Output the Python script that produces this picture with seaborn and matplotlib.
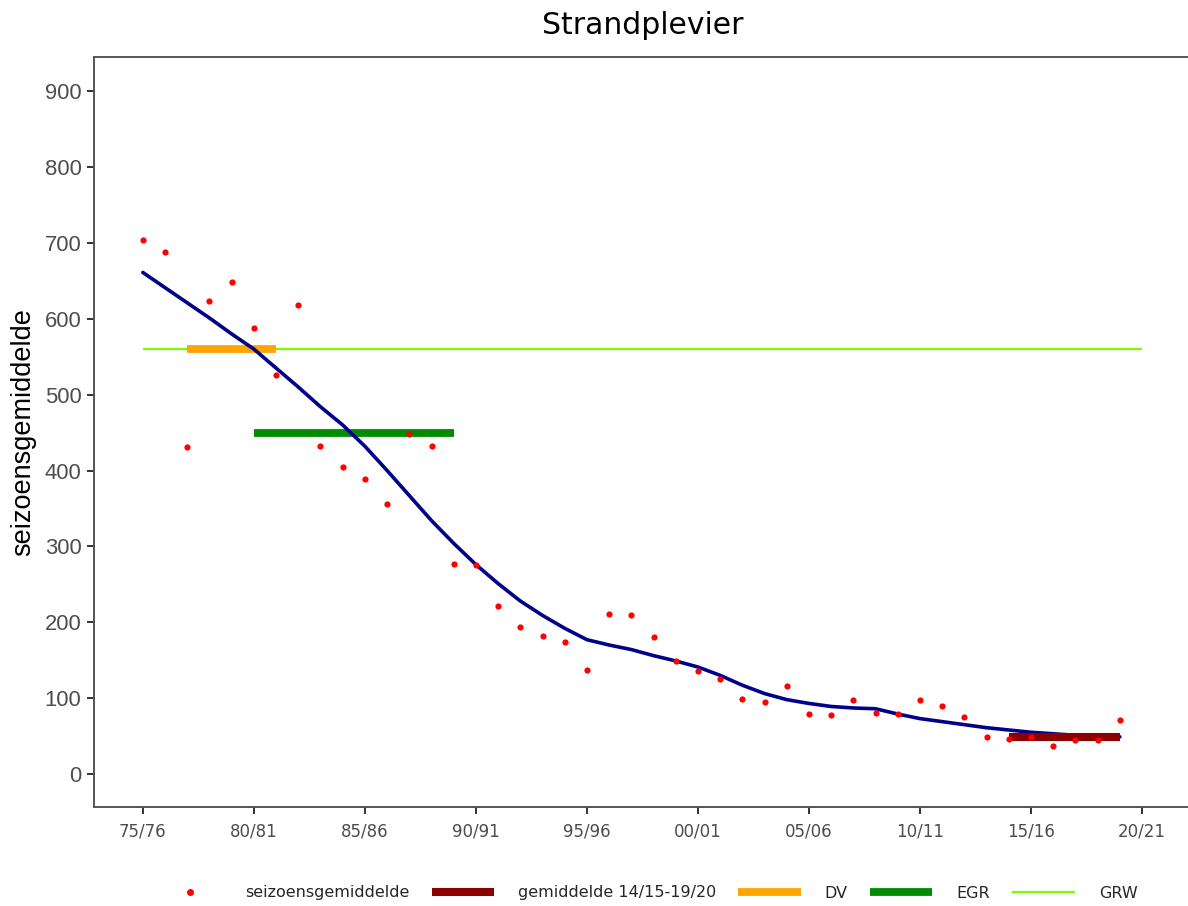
import pandas as pd
import matplotlib.pyplot as plt
import seaborn as sns
from matplotlib.lines import Line2D

# season start years 75/76 .. 19/20
years = list(range(1975, 2020))
seizoen = [704, 688, 431, 624, 648, 588, 526, 618, 432, 404,
           389, 356, 448, 432, 277, 275, 221, 194, 182, 174,
           137, 211, 210, 181, 149, 136, 125, 99, 95, 116,
           79, 78, 97, 81, 79, 97, 90, 75, 49, 46,
           49, 37, 45, 45, 71]
trend = [661, 641, 621, 601, 580, 560, 535, 510, 484, 460,
         432, 400, 367, 334, 304, 276, 251, 228, 209, 192,
         177, 170, 164, 156, 149, 141, 130, 117, 106, 98,
         93, 89, 87, 86, 79, 73, 69, 65, 61, 58,
         55, 53, 51, 50, 49]

gem_x, gem_y = [2014, 2019], [49, 49]
dv_x, dv_y = [1977, 1981], [560, 560]
egr_x, egr_y = [1980, 1989], [450, 450]
grw_x, grw_y = [1975, 2020], [560, 560]

tick_years = list(range(1975, 2021, 5))
tick_labels = ['75/76', '80/81', '85/86', '90/91', '95/96',
               '00/01', '05/06', '10/11', '15/16', '20/21']

df = pd.DataFrame({'jaar': years, 'seizoen': seizoen, 'trend': trend})

sns.set_theme(style='ticks')
plt.rcParams['font.family'] = ['DejaVu Sans']

fig = plt.figure(figsize=(11.88, 9.06), dpi=100)
ax = fig.add_axes([94 / 1188, 99 / 906, 1 - 94 / 1188, 750 / 906])

kw = dict(solid_capstyle='butt', ax=ax)
sns.lineplot(x=grw_x, y=grw_y, color='#7CFC00', linewidth=1.6, zorder=1, **kw)
sns.lineplot(x=dv_x, y=dv_y, color='#FFA500', linewidth=5.6, zorder=2, **kw)
sns.lineplot(x=egr_x, y=egr_y, color='#008B00', linewidth=5.6, zorder=2, **kw)
sns.lineplot(data=df, x='jaar', y='trend', color='#00008B', linewidth=2.6,
             zorder=3, solid_joinstyle='round', ax=ax)
sns.lineplot(x=gem_x, y=gem_y, color='#8B0000', linewidth=5.8, zorder=4, **kw)
sns.scatterplot(data=df, x='jaar', y='seizoen', color='#FF0000', s=20,
                linewidth=0, ax=ax, zorder=5)

ax.set_xlim(1972.8, 2022.07)
ax.set_ylim(-43.5, 945)
ax.set_xticks(tick_years)
ax.set_xticklabels(tick_labels, fontsize=12, color='#4D4D4D')
ax.set_yticks(range(0, 901, 100))
ax.set_yticklabels([str(v) for v in range(0, 901, 100)], fontsize=15.8,
                   color='#4D4D4D', family='Liberation Sans')
ax.tick_params(axis='both', length=5, width=1.4, color='#333333', direction='out')
ax.tick_params(axis='x', pad=6)
ax.tick_params(axis='y', pad=4)
ax.set_xlabel('')
ax.set_ylabel('seizoensgemiddelde', fontsize=19.5, family='Liberation Sans',
              color='black', labelpad=6)
for s in ['left', 'bottom', 'top']:
    ax.spines[s].set_visible(True)
    ax.spines[s].set_color('#555555')
    ax.spines[s].set_linewidth(1.4)
ax.spines['right'].set_visible(False)

fig.text(643 / 1188, 1 - 25 / 906, 'Strandplevier', ha='center', va='center',
         fontsize=21.5, family='DejaVu Sans', color='black')

handles = [
    Line2D([], [], marker='o', linestyle='', color='#FF0000', markersize=4),
    Line2D([], [], color='#8B0000', linewidth=5.8, solid_capstyle='butt'),
    Line2D([], [], color='#FFA500', linewidth=5.6, solid_capstyle='butt'),
    Line2D([], [], color='#008B00', linewidth=5.6, solid_capstyle='butt'),
    Line2D([], [], color='#7CFC00', linewidth=1.6, solid_capstyle='butt'),
]
labels = ['seizoensgemiddelde', 'gemiddelde 14/15-19/20', 'DV', 'EGR', 'GRW']
fig.legend(handles, labels, loc='center', bbox_to_anchor=(648 / 1188, 13 / 906),
           ncol=5, frameon=False, fontsize=11.5, handlelength=3.9,
           handletextpad=1.5, columnspacing=1.4)

plt.savefig('out.png', dpi=100)
